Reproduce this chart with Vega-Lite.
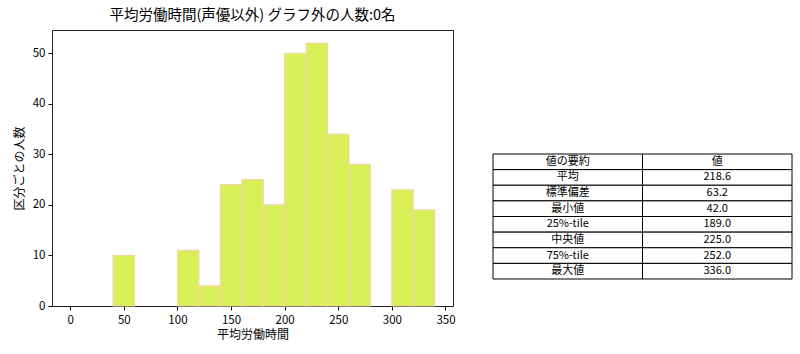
{
  "$schema": "https://vega.github.io/schema/vega-lite/v6.json",
  "padding": {"left": 12, "top": 7, "right": 0, "bottom": 0},
  "background": "white",
  "bounds": "flush",
  "spacing": 40,
  "config": {
    "font": "Noto Sans CJK JP",
    "view": {"stroke": null},
    "axis": {"labelColor": "#000", "titleColor": "#000", "labelFont": "Noto Sans CJK JP", "titleFont": "Noto Sans CJK JP", "titleFontWeight": "normal"}
  },
  "hconcat": [
    {
      "width": 401,
      "height": 276,
      "view": {"stroke": "#222", "strokeWidth": 1},
      "title": {"text": "平均労働時間(声優以外) グラフ外の人数:0名", "fontSize": 14.5, "fontWeight": "normal", "color": "#000", "offset": 7, "anchor": "middle"},
      "data": {"values": [
        {"bin_start": 40, "bin_end": 60, "count": 10},
        {"bin_start": 100, "bin_end": 120, "count": 11},
        {"bin_start": 120, "bin_end": 140, "count": 4},
        {"bin_start": 140, "bin_end": 160, "count": 24},
        {"bin_start": 160, "bin_end": 180, "count": 25},
        {"bin_start": 180, "bin_end": 200, "count": 20},
        {"bin_start": 200, "bin_end": 220, "count": 50},
        {"bin_start": 220, "bin_end": 240, "count": 52},
        {"bin_start": 240, "bin_end": 260, "count": 34},
        {"bin_start": 260, "bin_end": 280, "count": 28},
        {"bin_start": 300, "bin_end": 320, "count": 23},
        {"bin_start": 320, "bin_end": 340, "count": 19}
      ]},
      "mark": {"type": "rect", "fill": "#d9ef58", "stroke": "#f3d6a6", "strokeWidth": 1.2},
      "encoding": {
        "x": {"field": "bin_start", "type": "quantitative", "scale": {"domain": [-17, 357], "nice": false, "zero": false},
          "axis": {"title": "平均労働時間", "values": [0, 50, 100, 150, 200, 250, 300, 350], "grid": false, "domain": false, "tickColor": "#000", "tickSize": 4, "labelFontSize": 11.5, "titleFontSize": 12, "labelPadding": 4, "titlePadding": 4}},
        "x2": {"field": "bin_end"},
        "y": {"field": "count", "type": "quantitative", "scale": {"domain": [0, 54.6], "nice": false},
          "axis": {"title": "区分ごとの人数", "values": [0, 10, 20, 30, 40, 50], "grid": false, "domain": false, "tickColor": "#000", "tickSize": 4, "labelFontSize": 11.5, "titleFontSize": 12, "labelPadding": 3, "titlePadding": 6}}
      }
    },
    {
      "width": 299,
      "height": 276,
      "data": {"values": [
        {"項目": "値の要約", "値": "値"},
        {"項目": "平均", "値": "218.6"},
        {"項目": "標準偏差", "値": "63.2"},
        {"項目": "最小値", "値": "42.0"},
        {"項目": "25%-tile", "値": "189.0"},
        {"項目": "中央値", "値": "225.0"},
        {"項目": "75%-tile", "値": "252.0"},
        {"項目": "最大値", "値": "336.0"}
      ]},
      "transform": [{"fold": ["項目", "値"], "as": ["col", "text"]}],
      "encoding": {
        "x": {"field": "col", "type": "nominal", "sort": ["項目", "値"], "scale": {"paddingInner": 0, "paddingOuter": 0}, "axis": null},
        "y": {"field": "項目", "type": "nominal", "sort": ["値の要約", "平均", "標準偏差", "最小値", "25%-tile", "中央値", "75%-tile", "最大値"], "scale": {"range": [124, 249], "paddingInner": 0, "paddingOuter": 0}, "axis": null}
      },
      "layer": [
        {"mark": {"type": "rect", "fill": "white", "stroke": "#000", "strokeWidth": 1}},
        {"mark": {"type": "text", "fontSize": 11, "color": "#000", "align": "center", "baseline": "middle"}, "encoding": {"text": {"field": "text", "type": "nominal"}}}
      ]
    }
  ]
}
